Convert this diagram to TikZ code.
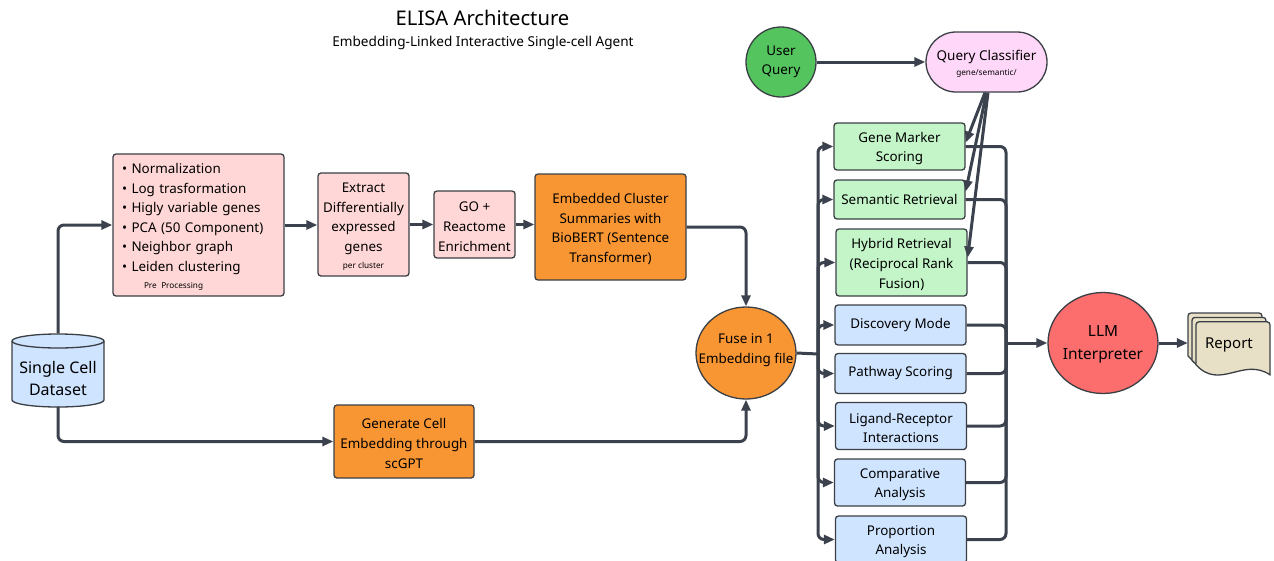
\documentclass[tikz,border=0pt]{standalone}
\usepackage{fontspec}
\setmainfont{Noto Sans}
\usetikzlibrary{arrows.meta,calc,shapes.geometric}
\definecolor{ln}{HTML}{3B424D}
\definecolor{bd}{HTML}{3A3F45}
\definecolor{pinkc}{HTML}{FFD7D7}
\definecolor{orng}{HTML}{F99634}
\definecolor{grn}{HTML}{C4F5C9}
\definecolor{blu}{HTML}{CFE4FF}
\definecolor{uqc}{HTML}{54C45E}
\definecolor{qcc}{HTML}{FFD7F8}
\definecolor{llmc}{HTML}{FC6D6D}
\definecolor{repc}{HTML}{E8E0C6}
\newcommand\fbody{\fontsize{13.4}{19.6}\selectfont}
\newcommand\fsmall{\fontsize{8.2}{10}\selectfont}
\newcommand\ftitle{\fontsize{20.2}{24}\selectfont}
\newcommand\fsub{\fontsize{13.6}{16}\selectfont}
\newcommand\fds{\fontsize{16}{22}\selectfont}
\newcommand\fllm{\fontsize{15.4}{23}\selectfont}
\newcommand\frep{\fontsize{15}{18}\selectfont}
\newcommand\topst{\rule{0pt}{14pt}}
\tikzset{
  conn/.style={draw=ln, line width=3pt, rounded corners=6pt},
  arr/.style={conn, -{Triangle[length=11pt,width=9pt]}},
  box/.style={draw=bd, line width=1.3pt, rounded corners=3pt, align=center, inner sep=0pt, font=\fbody},
  rbox/.style={box, minimum width=131pt},
  ell/.style={ellipse, draw=bd, line width=1.3pt, inner sep=0pt},
}
\begin{document}
\begin{tikzpicture}[x=1pt,y=-1pt]
\useasboundingbox (0,0) rectangle (1274,560);

% titles
\node[font=\ftitle] (title) at (482.5,18) {ELISA Architecture};
\node[font=\fsub] (sub) at (483,43) {Embedding-Linked Interactive Single-cell Agent};

% dataset cylinder
\filldraw[fill=blu, draw=bd, line width=1.3pt]
  (12,341) -- (12,400) arc[start angle=180, end angle=360, x radius=46pt, y radius=7pt]
  -- (104,341) arc[start angle=0, end angle=180, x radius=46pt, y radius=7pt] -- cycle;
\draw[draw=bd, line width=1.3pt] (12,341) arc[start angle=180, end angle=360, x radius=46pt, y radius=7pt];
\node[minimum width=92pt, minimum height=73pt, inner sep=0pt,
  label={[font=\fds, align=center, yshift=-8pt]center:Single Cell\\Dataset}] (ds) at (58,370) {};

% pipeline
\node[box, fill=pinkc, minimum width=171pt, minimum height=142pt, text width=153pt, align=left] (pre) at (198.5,225)
 {\topst\textbullet\ Normalization\\ \textbullet\ Log trasformation\\ \textbullet\ Higly variable genes\\ \textbullet\ PCA (50 Component)\\ \textbullet\ Neighbor graph\\ \textbullet\ Leiden clustering\\[-2.6pt] \hspace*{22pt}{\fsmall Pre Processing}};
\node[box, fill=pinkc, minimum width=91pt, minimum height=103pt] (ext) at (363.5,224.5)
 {\topst Extract\\Differentially\\expressed\\genes\\[-2.6pt]{\fsmall per cluster}};
\node[box, fill=pinkc, minimum width=81pt, minimum height=67pt] (go) at (474.5,224.5)
 {\topst GO +\\Reactome\\Enrichment};
\node[box, fill=orng, minimum width=151pt, minimum height=106pt] (emb) at (610.5,227)
 {\topst Embedded Cluster\\Summaries with\\BioBERT (Sentence\\Transformer)};
\node[box, fill=orng, minimum width=140pt, minimum height=73pt] (gen) at (404,441.5)
 {\topst Generate Cell\\Embedding through\\scGPT};
\node[ell, fill=orng, minimum width=100pt, minimum height=92pt,
  label={[font=\fbody, align=center, yshift=3pt]center:Fuse in 1\\Embedding file}] (fuse) at (746,353) {};

% query part
\node[circle, draw=bd, line width=1.3pt, fill=uqc, minimum size=70pt, inner sep=0pt, align=center, font=\fbody] (uq) at (781,62) {User\\Query};
\node[draw=bd, line width=1.3pt, fill=qcc, rounded corners=30pt, minimum width=121pt, minimum height=60pt, align=center, inner sep=0pt, font=\fontsize{13.5}{15}\selectfont] (qc) at (986.5,62)
 {\topst Query Classifier\\{\fsmall gene/semantic/}};

% analysis boxes
\node[rbox, fill=grn, minimum height=47pt] (gm) at (899.5,146.5) {\topst Gene Marker\\Scoring};
\node[rbox, fill=grn, minimum height=39pt] (sr) at (899.5,199.5) {Semantic Retrieval};
\node[rbox, fill=grn, minimum height=67pt] (hr) at (901.5,262.5) {\topst Hybrid Retrieval\\(Reciprocal Rank\\Fusion)};
\node[rbox, fill=blu, minimum height=40pt] (dm) at (900.5,325) {Discovery Mode};
\node[rbox, fill=blu, minimum height=40pt] (ps) at (900.5,373.5) {Pathway Scoring};
\node[rbox, fill=blu, minimum height=47pt] (lr) at (901,426) {\topst Ligand-Receptor\\Interactions};
\node[rbox, fill=blu, minimum height=47pt] (ca) at (900,482.5) {\topst Comparative\\Analysis};
\node[rbox, fill=blu, minimum height=47pt] (pa) at (901,539.5) {\topst Proportion\\Analysis};

% LLM and report
\node[ell, fill=llmc, minimum width=110pt, minimum height=101pt,
  label={[font=\fllm, align=center, yshift=-1pt]center:LLM\\Interpreter}] (llm) at (1103,343) {};
\foreach \d in {0,4,8} {
  \filldraw[fill=repc, draw=bd, line width=1.3pt, shift={(\d,\d*1.1)}]
    [rounded corners=3pt] (1188,356) -- (1188,313) -- (1262,313) [sharp corners] -- (1262,366)
    .. controls (1235,348) and (1212,382) .. (1188,356) -- cycle;
}
\node[font=\frep, minimum width=82pt, minimum height=50pt, inner sep=0pt] (rep) at (1229,343) {\topst Report};

% connectors
\draw[arr] (ds.north) |- (pre.west);
\draw[arr] (ds.south) |- (gen.west);
\draw[arr] (pre.east) -- (ext.west |- pre.east);
\draw[arr] (ext.east |- go.west) -- (go.west);
\draw[arr] (go.east) -- (emb.west |- go.east);
\draw[arr] (emb.east) -| (fuse.north);
\draw[arr] (gen.east) -| (fuse.south);

\coordinate (lb) at (818,354);
\coordinate (rb) at (1006,343);
\draw[conn] (fuse.east) -- (lb);
\foreach \n in {gm,sr,hr,dm,ps,lr,ca,pa} {
  \draw[arr] (lb) |- (\n.west);
  \draw[conn] (\n.east) -| (rb);
}
\draw[arr] (rb) -- (llm.west);
\draw[arr] (llm.east) -- (rep.west);

\draw[arr] (uq.east) -- (qc.west);
\draw[arr] ([xshift=-1.5pt]qc.south) -- ([yshift=4pt]gm.east);
\draw[arr] (qc.south) -- ([yshift=8pt]sr.east);
\draw[arr] ([xshift=1.5pt]qc.south) -- ([yshift=5pt]hr.east);
\end{tikzpicture}
\end{document}
